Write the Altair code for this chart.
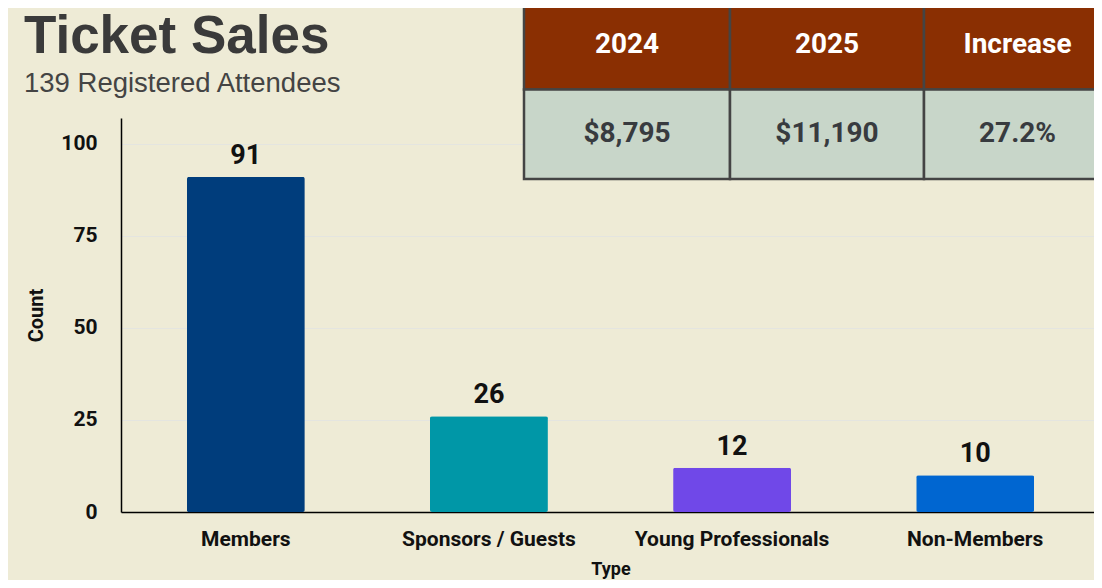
import altair as alt
import pandas as pd

# ---- data ----
types = ["Members", "Sponsors / Guests", "Young Professionals", "Non-Members"]
counts = [91, 26, 12, 10]
bar_colors = ["#003d7c", "#0097a7", "#7048e8", "#0066d1"]

table_headers = ["2024", "2025", "Increase"]
table_values = ["$8,795", "$11,190", "27.2%"]

title_text = "Ticket Sales"
subtitle_text = "139 Registered Attendees"

BG = "#eeebd6"

bars_df = pd.DataFrame({"Type": types, "Count": counts})

rows = []
for i, (h, v) in enumerate(zip(table_headers, table_values)):
    rows.append({"col": i, "row": 0, "label": h})
    rows.append({"col": i, "row": 1, "label": v})
table_df = pd.DataFrame(rows)

# ---- bar chart ----
x_scale = alt.Scale(domain=types, range=[0, 979], paddingInner=0.515, paddingOuter=0.271)
y_scale = alt.Scale(domain=[0, 107], nice=False, zero=True)

bars = alt.Chart(bars_df).mark_bar(cornerRadius=2).encode(
    x=alt.X("Type:N", sort=types, scale=x_scale,
            axis=alt.Axis(title="Type", labelAngle=0, ticks=False, domainColor="#000000",
                          domainWidth=1.5, labelFont="Roboto", labelFontWeight="bold",
                          labelFontSize=21, labelColor="#111111", labelPadding=16,
                          labelLimit=400,
                          titleFont="Roboto", titleFontWeight="bold", titleFontSize=18,
                          titleColor="#111111", titlePadding=11, grid=False)),
    y=alt.Y("Count:Q", scale=y_scale,
            axis=alt.Axis(title="Count", values=[0, 25, 50, 75, 100], ticks=False,
                          domainColor="#000000", domainWidth=1.5, labelFont="Roboto",
                          labelFontWeight="bold", labelFontSize=21, labelColor="#111111",
                          labelPadding=24, titleFont="Roboto", titleFontWeight="bold",
                          titleFontSize=20, titleColor="#111111", titlePadding=14,
                          gridColor="#e4e5e0", gridWidth=1)),
    color=alt.Color("Type:N", scale=alt.Scale(domain=types, range=bar_colors), legend=None),
)

labels = alt.Chart(bars_df).mark_text(
    font="Roboto", fontWeight="bold", fontSize=27, color="#111111",
    baseline="alphabetic", dy=-13
).encode(
    x=alt.X("Type:N", sort=types, scale=x_scale),
    y=alt.Y("Count:Q", scale=y_scale),
    text=alt.Text("Count:Q"),
)

base = alt.layer(bars, labels)

# ---- table ----
tx_scale = alt.Scale(domain=[0, 1, 2, 3], range=[403, 609, 803, 990], nice=False, zero=False)
ty_scale = alt.Scale(domain=[0, 1, 2], range=[-118, -28.5, 61], nice=False, zero=False)

cells = alt.Chart(table_df).transform_calculate(
    col2="datum.col + 1", row2="datum.row + 1"
).mark_rect(stroke="#444444", strokeWidth=2.5).encode(
    x=alt.X("col:Q", scale=tx_scale, axis=None),
    x2="col2:Q",
    y=alt.Y("row:Q", scale=ty_scale, axis=None),
    y2="row2:Q",
    fill=alt.condition(alt.datum.row == 0, alt.value("#8a2f02"), alt.value("#c8d6c9")),
)

cell_text = alt.Chart(table_df).transform_calculate(
    cx="datum.col + 0.5", cy="datum.row + 0.5"
).mark_text(font="Roboto", fontWeight="bold", fontSize=28, baseline="middle").encode(
    x=alt.X("cx:Q", scale=tx_scale, axis=None),
    y=alt.Y("cy:Q", scale=ty_scale, axis=None),
    text="label:N",
    color=alt.condition(alt.datum.row == 0, alt.value("#ffffff"), alt.value("#383b3f")),
)

table = alt.layer(cells, cell_text)

chart = alt.layer(base, table).resolve_scale(
    x="independent", y="independent"
).resolve_axis(
    x="independent", y="independent"
).properties(
    width=973,
    height=394,
    title=alt.Title(
        title_text,
        subtitle=subtitle_text,
        anchor="start",
        frame="group",
        dx=-97,
        offset=-99,
        font="Liberation Sans",
        fontSize=53,
        fontWeight="bold",
        color="#3a3a3a",
        subtitleFont="Liberation Sans",
        subtitleFontSize=27.5,
        subtitleColor="#444444",
        subtitlePadding=6,
    ),
    autosize=alt.AutoSizeParams(type="none"),
    padding={"left": 113, "top": 110, "right": 0, "bottom": 68},
).configure(
    background=BG
).configure_view(
    stroke=None
)

chart.save("out.html", embed_options={"renderer": "svg", "actions": False})
